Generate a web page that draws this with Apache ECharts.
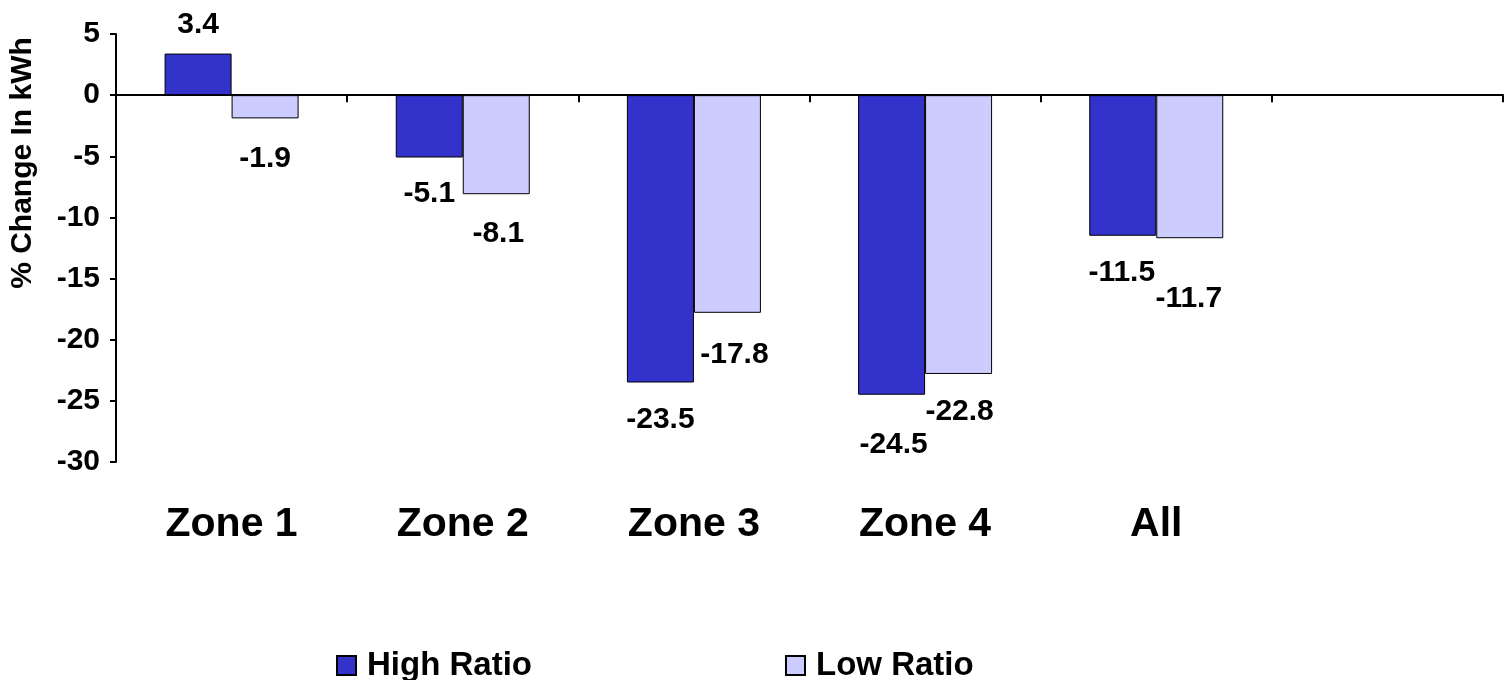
<!DOCTYPE html>
<html>
<head>
<meta charset="utf-8">
<script src="https://cdn.jsdelivr.net/npm/echarts@6/dist/echarts.min.js"></script>
<style>
html,body{margin:0;padding:0;background:#fff;}
#chart{width:1505px;height:680px;}
</style>
</head>
<body>
<div id="chart"></div>
<script>
const categories = ['Zone 1', 'Zone 2', 'Zone 3', 'Zone 4', 'All', ''];
const highRatio = [3.4, -5.1, -23.5, -24.5, -11.5, null];
const lowRatio = [-1.9, -8.1, -17.8, -22.8, -11.7, null];
const yTicks = { min: -30, max: 5, interval: 5 };
const seriesNames = ['High Ratio', 'Low Ratio'];

// per-label placement tweaks (gap from bar end, horizontal shift)
const highLabelGap = [14, 21, 22, 35, 22, 0];
const highLabelShift = [0, 0, 0, 2, -1, 0];
const lowLabelGap = [25, 25, 27, 23, 46, 0];
const lowLabelShift = [0, 2, 7, 1, -1, 0];

const FONT = 'Arial, "Liberation Sans", sans-serif';

function buildData(vals, gaps, shifts) {
  return vals.map((v, i) => {
    if (v === null) return null;
    return {
      value: v,
      label: {
        position: v >= 0 ? 'top' : 'bottom',
        distance: gaps[i],
        offset: [shifts[i], 0]
      }
    };
  });
}

const chart = echarts.init(document.getElementById('chart'));
chart.setOption({
  animation: false,
  backgroundColor: '#ffffff',
  textStyle: { fontFamily: FONT },
  grid: { left: 116, top: 34, width: 1387, height: 428, containLabel: false, outerBoundsMode: 'none' },
  legend: {
    data: seriesNames,
    left: 331,
    top: 644,
    itemWidth: 19,
    itemHeight: 19,
    itemGap: 253,
    icon: 'rect',
    textStyle: { fontFamily: FONT, fontWeight: 'bold', fontSize: 33, color: '#000', padding: [0, 0, 0, 6] }
  },
  xAxis: [
    {
      type: 'category',
      data: categories,
      axisLine: { onZero: true, lineStyle: { color: '#000', width: 2 } },
      axisTick: { show: true, length: 7, lineStyle: { color: '#000', width: 2 } },
      axisLabel: { show: false },
      splitLine: { show: false }
    },
    {
      type: 'category',
      data: categories,
      position: 'bottom',
      axisLine: { show: false },
      axisTick: { show: false },
      axisLabel: { show: true, margin: 42, fontFamily: FONT, fontWeight: 'bold', fontSize: 41, color: '#000' },
      splitLine: { show: false }
    }
  ],
  yAxis: {
    type: 'value',
    min: yTicks.min,
    max: yTicks.max,
    interval: yTicks.interval,
    name: '% Change In kWh',
    nameLocation: 'middle',
    nameGap: 78,
    nameRotate: 90,
    nameTextStyle: { fontFamily: FONT, fontWeight: 'bold', fontSize: 30, color: '#000', padding: [0, 0, 0, 170] },
    axisLine: { show: true, lineStyle: { color: '#000', width: 2 } },
    axisTick: { show: true, length: 6, lineStyle: { color: '#000', width: 2 } },
    axisLabel: { fontFamily: FONT, fontWeight: 'bold', fontSize: 30, color: '#000', margin: 16 },
    splitLine: { show: false }
  },
  series: [
    {
      name: seriesNames[0],
      type: 'bar',
      xAxisIndex: 0,
      barWidth: 67,
      barGap: '0%',
      itemStyle: { color: '#3333CC', borderColor: '#000', borderWidth: 1 },
      label: { show: true, fontFamily: FONT, fontWeight: 'bold', fontSize: 30, color: '#000' },
      data: buildData(highRatio, highLabelGap, highLabelShift)
    },
    {
      name: seriesNames[1],
      type: 'bar',
      xAxisIndex: 0,
      barWidth: 67,
      barGap: '0%',
      itemStyle: { color: '#CCCCFF', borderColor: '#000', borderWidth: 1 },
      label: { show: true, fontFamily: FONT, fontWeight: 'bold', fontSize: 30, color: '#000' },
      data: buildData(lowRatio, lowLabelGap, lowLabelShift)
    }
  ]
});
</script>
</body>
</html>
